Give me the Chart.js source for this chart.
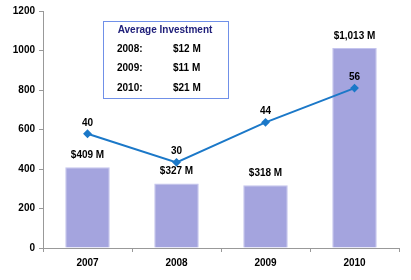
<!DOCTYPE html>
<html>
<head>
<meta charset="utf-8">
<script src="https://cdn.jsdelivr.net/npm/chart.js@4.4.0/dist/chart.umd.min.js"></script>
<style>
  html, body { margin: 0; padding: 0; background: #fff; }
  #wrap { width: 411px; height: 280px; }
</style>
</head>
<body>
<div id="wrap"><canvas id="investChart" width="411" height="280"></canvas></div>
<script>
const years = ["2007", "2008", "2009", "2010"];
const investment = [409, 327, 318, 1013];        // $M, bars
const investLabels = ["$409 M", "$327 M", "$318 M", "$1,013 M"];
const dealCount = [40, 30, 44, 56];              // line, hidden right axis
const yTicks = [0, 200, 400, 600, 800, 1000, 1200];

const avgTitle = "Average Investment";
const avgYears = ["2008:", "2009:", "2010:"];
const avgValues = ["$12 M", "$11 M", "$21 M"];

const FONT = "'Liberation Sans', Arial, sans-serif";

// labels above bars and points
const valueLabels = {
  id: "valueLabels",
  afterDatasetsDraw(chart) {
    const ctx = chart.ctx;
    ctx.save();
    ctx.font = "bold 10px " + FONT;
    ctx.fillStyle = "#000";
    ctx.textAlign = "center";
    ctx.textBaseline = "middle";
    chart.getDatasetMeta(0).data.forEach((bar, i) => {
      ctx.fillText(investLabels[i], bar.x, bar.y - 12);
    });
    chart.getDatasetMeta(1).data.forEach((pt, i) => {
      ctx.fillText(String(dealCount[i]), pt.x, pt.y - 11);
    });
    ctx.restore();
  }
};

// "Average Investment" box
const avgBox = {
  id: "avgBox",
  afterDraw(chart) {
    const ctx = chart.ctx;
    ctx.save();
    ctx.fillStyle = "#fff";
    ctx.fillRect(103, 21, 125, 77);
    ctx.strokeStyle = "#7090e8";
    ctx.lineWidth = 1;
    ctx.strokeRect(103.5, 21.5, 125, 77);
    ctx.font = "bold 10px " + FONT;
    ctx.textBaseline = "middle";
    ctx.fillStyle = "#20207a";
    ctx.textAlign = "center";
    ctx.fillText(avgTitle, 165, 30);
    ctx.fillStyle = "#000";
    ctx.textAlign = "left";
    avgYears.forEach((y, i) => {
      ctx.fillText(y, 117, 49 + i * 19.5);
      ctx.fillText(avgValues[i], 173, 49 + i * 19.5);
    });
    ctx.restore();
  }
};

new Chart(document.getElementById("investChart"), {
  data: {
    labels: years,
    datasets: [
      {
        type: "bar",
        data: investment,
        backgroundColor: "#a4a4de",
        borderColor: "#c4c4ee",
        borderWidth: 1,
        categoryPercentage: 1,
        barPercentage: 0.5,
        yAxisID: "y",
        order: 2
      },
      {
        type: "line",
        data: dealCount,
        borderColor: "#1b78c8",
        backgroundColor: "#1b78c8",
        borderWidth: 2,
        pointStyle: "rectRot",
        pointRadius: 3,
        tension: 0,
        yAxisID: "y1",
        order: 1
      }
    ]
  },
  options: {
    responsive: false,
    animation: false,
    layout: { padding: { top: 11, right: 12, left: 0, bottom: 0 } },
    plugins: { legend: { display: false }, tooltip: { enabled: false } },
    scales: {
      x: {
        offset: true,
        grid: { display: true, offset: true, drawOnChartArea: false, color: "#999", tickLength: 4 },
        border: { color: "#999" },
        ticks: { color: "#000", font: { family: FONT, size: 10, weight: "bold" }, padding: 5 },
        afterFit(scale) { scale.height = 32; }
      },
      y: {
        min: 0,
        max: 1200,
        afterBuildTicks(scale) { scale.ticks = yTicks.map(v => ({ value: v })); },
        grid: { drawOnChartArea: false, color: "#999", tickLength: 4 },
        border: { color: "#999" },
        ticks: {
          color: "#000",
          font: { family: FONT, size: 10, weight: "bold" },
          padding: 4,
          callback: v => String(v)
        },
        afterFit(scale) { scale.width = 43; }
      },
      y1: {
        display: false,
        min: 0,
        max: 83
      }
    }
  },
  plugins: [valueLabels, avgBox]
});
</script>
</body>
</html>
